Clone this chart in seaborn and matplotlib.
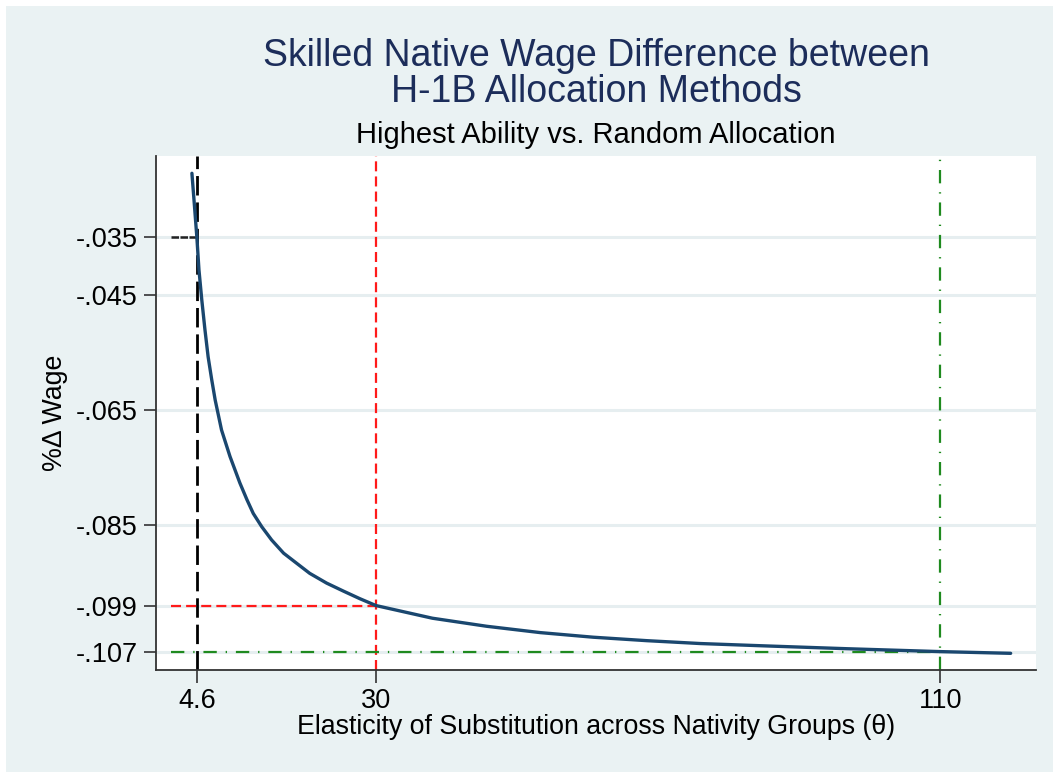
import seaborn as sns
import matplotlib
matplotlib.use('Agg')
import matplotlib.pyplot as plt
from matplotlib.patches import Rectangle
import pandas as pd

# values
theta = [3.9, 4.2, 4.6, 4.9, 5.3, 5.75, 6.2, 6.7, 7.2, 8.1, 9.3, 10.7,
         11.7, 12.6, 13.8, 15.2, 16.9, 18.8, 20.6, 23.0, 25.4, 27.7, 30,
         38, 45.7, 53.3, 60.8, 68.4, 76, 85, 96.8, 110, 120]
wage = [-0.0239, -0.0286, -0.0350, -0.0407, -0.0459, -0.0511, -0.0558, -0.0597,
        -0.0633, -0.0685, -0.0731, -0.0777, -0.0806, -0.0830,
        -0.0853, -0.0876, -0.0899, -0.0917, -0.0934, -0.0951, -0.0965, -0.0978,
        -0.0990, -0.1012, -0.1026, -0.1037, -0.1045, -0.1051, -0.1056, -0.1060,
        -0.1065, -0.1070, -0.1073]

yticks = [-0.035, -0.045, -0.065, -0.085, -0.099, -0.107]
ytick_labels = ['-.035', '-.045', '-.065', '-.085', '-.099', '-.107']
xticks = [4.6, 30, 110]
xtick_labels = ['4.6', '30', '110']

# reference markers: (theta, wage)
ref_black = (4.6, -0.035)
ref_red = (30, -0.099)
ref_green = (110, -0.107)
hline_start = 1.0

bg = '#eaf2f3'
navy = '#1a476f'

sns.set_style('white')
plt.rcParams['font.family'] = ['Liberation Sans', 'DejaVu Sans']
plt.rcParams['text.color'] = 'black'
plt.rcParams['axes.labelcolor'] = 'black'

df = pd.DataFrame({'theta': theta, 'wage': wage})

fig = plt.figure(figsize=(10.53, 7.72), dpi=100)
fig.patch.set_facecolor('white')
fig.patches.append(Rectangle((6 / 1053, 0), 1, 1 - 6 / 772, transform=fig.transFigure,
                             facecolor=bg, edgecolor='none', zorder=-10))
ax = fig.add_axes([0.1481, 0.1321, 0.8358, 0.6658])
ax.set_facecolor('white')

# grid lines at the y ticks
for yt in yticks:
    ax.axhline(yt, color='#e6eef0', lw=2.2, zorder=0)

# reference lines
ax.axvline(ref_black[0], color='black', lw=2.0, ls=(0, (7, 2.5)), zorder=2)
ax.plot([hline_start, ref_black[0]], [ref_black[1]] * 2, color='#222222', lw=1.8,
        ls=(0, (3, 0.6)), zorder=2)
ax.axvline(ref_red[0], color='#ff1a1a', lw=1.6, ls=(0, (4.5, 2.3)), zorder=2)
ax.plot([hline_start, ref_red[0]], [ref_red[1]] * 2, color='#ff1a1a', lw=1.6,
        ls=(0, (4.5, 2.3)), zorder=2)
ax.axvline(ref_green[0], color='#1f8a1f', lw=1.6, ls=(0, (6, 4, 0.6, 4)), zorder=2)
ax.plot([hline_start, ref_green[0]], [ref_green[1]] * 2, color='#1f8a1f', lw=1.6,
        ls=(0, (6, 4, 0.6, 4)), zorder=2)

sns.lineplot(data=df, x='theta', y='wage', ax=ax, color=navy, lw=2.4, zorder=3)

ax.set_xlim(-1.2, 123.6)
ax.set_ylim(-0.1102, -0.0209)
ax.set_xticks(xticks)
ax.set_xticklabels(xtick_labels)
ax.set_yticks(yticks)
ax.set_yticklabels(ytick_labels)
ax.tick_params(axis='both', direction='out', length=9, width=1.2, color='#333333',
               labelsize=19.5, labelcolor='black', left=True, bottom=True, pad=4)

for side in ['top', 'right']:
    ax.spines[side].set_visible(False)
for side in ['left', 'bottom']:
    ax.spines[side].set_color('#333333')
    ax.spines[side].set_linewidth(1.3)

ax.set_xlabel('Elasticity of Substitution across Nativity Groups (θ)', fontsize=19.3,
              labelpad=0, color='black')
ax.set_ylabel('%Δ Wage', fontsize=19.3, color='black')
ax.yaxis.set_label_coords(-0.1, 0.5)

fig.text(0.566, 0.904, 'Skilled Native Wage Difference between\nH-1B Allocation Methods',
         ha='center', va='center', fontsize=27, color='#1c2d5a', linespacing=0.98)
fig.text(0.566, 0.825, 'Highest Ability vs. Random Allocation', ha='center', va='center',
         fontsize=21, color='black')

fig.savefig('out.png', dpi=100, facecolor=fig.get_facecolor())
